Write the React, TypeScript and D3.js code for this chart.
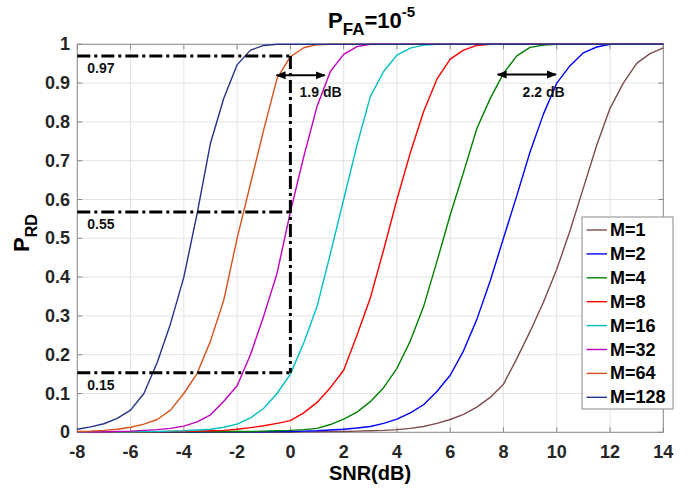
import React from "react";
import * as d3 from "d3";

// SNR grid in dB (0.5 dB steps)
const snr = [
  -8, -7.5, -7, -6.5, -6, -5.5, -5, -4.5, -4, -3.5, -3, -2.5, -2, -1.5, -1, -0.5,
  0, 0.5, 1, 1.5, 2, 2.5, 3, 3.5, 4, 4.5, 5, 5.5, 6, 6.5, 7, 7.5, 8, 8.5, 9, 9.5,
  10, 10.5, 11, 11.5, 12, 12.5, 13, 13.5, 14,
];

const pM1 = [
  0, 0, 0, 0, 0, 0, 0, 0, 0, 0, 0, 0, 0, 0, 0, 0,
  0, 0.001, 0.001, 0.002, 0.002, 0.003, 0.004, 0.005, 0.007, 0.01,
  0.015, 0.023, 0.033, 0.046, 0.065, 0.09,
  0.124, 0.19, 0.26, 0.335, 0.42, 0.52, 0.63, 0.74, 0.835, 0.9, 0.951, 0.976, 0.991,
];
const pM2 = [
  0, 0, 0, 0, 0, 0, 0, 0, 0, 0, 0.001, 0.001, 0.001, 0.001, 0.001, 0.002,
  0.002, 0.003, 0.004, 0.006, 0.008, 0.011, 0.015, 0.023, 0.034, 0.05, 0.071, 0.105,
  0.147, 0.21, 0.291, 0.39, 0.5, 0.61, 0.723, 0.82, 0.9, 0.945, 0.978, 0.993,
  1, 1, 1, 1, 1,
];
const pM4 = [
  0, 0, 0, 0, 0, 0, 0.001, 0.001, 0.001, 0.001, 0.001, 0.002, 0.002, 0.002, 0.003, 0.004,
  0.005, 0.007, 0.01, 0.02, 0.034, 0.052, 0.079, 0.115, 0.165, 0.235, 0.324, 0.44,
  0.56, 0.67, 0.783, 0.86, 0.925, 0.97, 0.992, 0.998, 1,
  1, 1, 1, 1, 1, 1, 1, 1,
];
const pM8 = [
  0, 0, 0, 0.001, 0.001, 0.001, 0.001, 0.002, 0.002, 0.003, 0.004, 0.005, 0.008, 0.012, 0.017, 0.023,
  0.03, 0.05, 0.077, 0.115, 0.16, 0.25, 0.346, 0.47, 0.6, 0.72, 0.826, 0.91,
  0.962, 0.985, 0.997, 1,
  1, 1, 1, 1, 1, 1, 1, 1, 1, 1, 1, 1, 1,
];
const pM16 = [
  0, 0.001, 0.001, 0.001, 0.001, 0.002, 0.002, 0.003, 0.004, 0.006, 0.008, 0.013, 0.021, 0.037, 0.062, 0.1,
  0.15, 0.23, 0.324, 0.46, 0.6, 0.74, 0.865, 0.93, 0.972, 0.99, 0.998, 1,
  1, 1, 1, 1, 1, 1, 1, 1, 1, 1, 1, 1, 1, 1, 1, 1, 1,
];
const pM32 = [
  0.001, 0.001, 0.001, 0.002, 0.003, 0.005, 0.007, 0.01, 0.016, 0.027, 0.045, 0.08, 0.12, 0.2, 0.3, 0.41,
  0.568, 0.71, 0.84, 0.93, 0.974, 0.994, 1,
  1, 1, 1, 1, 1, 1, 1, 1, 1, 1, 1, 1, 1, 1, 1, 1, 1, 1, 1, 1, 1, 1,
];
const pM64 = [
  0.002, 0.003, 0.005, 0.008, 0.013, 0.021, 0.033, 0.057, 0.1, 0.152, 0.235, 0.341, 0.5, 0.64, 0.78, 0.912,
  0.968, 0.991, 0.999,
  1, 1, 1, 1, 1, 1, 1, 1, 1, 1, 1, 1, 1, 1, 1, 1, 1, 1, 1, 1, 1, 1, 1, 1, 1, 1, 1,
];
const pM128 = [
  0.008, 0.014, 0.022, 0.036, 0.057, 0.1, 0.18, 0.28, 0.4, 0.564, 0.745, 0.861, 0.947, 0.985, 0.997, 1,
  1, 1, 1, 1, 1, 1, 1, 1, 1, 1, 1, 1, 1, 1, 1, 1, 1, 1, 1, 1, 1, 1, 1, 1, 1, 1, 1, 1, 1,
];

const seriesNames = ["M=1", "M=2", "M=4", "M=8", "M=16", "M=32", "M=64", "M=128"];
const seriesValues = [pM1, pM2, pM4, pM8, pM16, pM32, pM64, pM128];
const seriesColors = ["#7e4c4c", "#0000ff", "#008000", "#ff0000", "#00bfbf", "#bf00bf", "#d95319", "#23338c"];

const xTicks = [-8, -6, -4, -2, 0, 2, 4, 6, 8, 10, 12, 14];
const yTicks = [0, 0.1, 0.2, 0.3, 0.4, 0.5, 0.6, 0.7, 0.8, 0.9, 1];

// dash-dot reference lines (at SNR = 0 dB)
const refSnr = 0;
const refLevels = [0.97, 0.568, 0.1536];
const refLabels = ["0.97", "0.55", "0.15"];

// double arrows: [from, to, level, label]
const arrowFrom = [-0.52, 7.78];
const arrowTo = [1.29, 9.97];
const arrowLevel = [0.92, 0.922];
const arrowLabels = ["1.9 dB", "2.2 dB"];

const W = 696;
const H = 491;
const font = "'Liberation Sans', Arial, sans-serif";

export default function App() {
  const x = d3.scaleLinear().domain([-8, 14]).range([77.3, 663.3]);
  const y = d3.scaleLinear().domain([0, 1]).range([432.3, 44.3]);
  const [x0, x1] = x.range();
  const [y0, y1] = y.range();

  const line = d3
    .line<number>()
    .x((_, i) => x(snr[i]))
    .y((d) => y(d));

  const legX = 582;
  const legY = 217;
  const legW = 91;
  const legH = 192;
  const rowH = 23.9;

  return (
    <svg
      width={W}
      height={H}
      style={{ position: "absolute", left: 0, top: 0, background: "#fff" }}
      fontFamily={font}
    >
      <defs>
        <marker id="ah" viewBox="0 0 10 10" refX="9" refY="5" markerWidth="5" markerHeight="5" orient="auto-start-reverse">
          <path d="M0,1 L10,5 L0,9 z" fill="#000" />
        </marker>
      </defs>
      <rect x={0} y={0} width={W} height={H} fill="#fff" />

      {/* grid */}
      <g stroke="#e3e3e3" strokeWidth={1}>
        {xTicks.map((t) => (
          <line key={"gx" + t} x1={x(t)} x2={x(t)} y1={y0} y2={y1} />
        ))}
        {yTicks.map((t) => (
          <line key={"gy" + t} x1={x0} x2={x1} y1={y(t)} y2={y(t)} />
        ))}
      </g>

      {/* axes box + ticks */}
      <g stroke="#8a8a8a" strokeWidth={1} fill="none">
        <rect x={x0} y={y1} width={x1 - x0} height={y0 - y1} />
        {xTicks.map((t) => (
          <g key={"tx" + t}>
            <line x1={x(t)} x2={x(t)} y1={y0} y2={y0 - 5} />
            <line x1={x(t)} x2={x(t)} y1={y1} y2={y1 + 5} />
          </g>
        ))}
        {yTicks.map((t) => (
          <g key={"ty" + t}>
            <line x1={x0} x2={x0 + 5} y1={y(t)} y2={y(t)} />
            <line x1={x1} x2={x1 - 5} y1={y(t)} y2={y(t)} />
          </g>
        ))}
      </g>

      {/* tick labels */}
      <g fontSize={18} fontWeight="bold" fill="#262626">
        {xTicks.map((t) => (
          <text key={"lx" + t} x={x(t)} y={458} textAnchor="middle">
            {t}
          </text>
        ))}
        {yTicks.map((t) => (
          <text key={"ly" + t} x={70} y={y(t)} textAnchor="end" dominantBaseline="central">
            {t}
          </text>
        ))}
      </g>

      {/* curves */}
      <g fill="none" strokeWidth={1.4} strokeLinejoin="round">
        {seriesValues.map((vals, k) => (
          <path key={seriesNames[k]} d={line(vals) || ""} stroke={seriesColors[k]} />
        ))}
      </g>

      {/* dash-dot reference lines */}
      <g stroke="#000" strokeWidth={3} fill="none" strokeDasharray="13 4 3 4">
        {refLevels.map((lv) => (
          <line key={"rl" + lv} x1={x0} x2={x(refSnr)} y1={y(lv)} y2={y(lv)} />
        ))}
        <line x1={x(refSnr)} x2={x(refSnr)} y1={y(refLevels[0])} y2={y(refLevels[2])} />
      </g>
      <g fontSize={14} fontWeight="bold" fill="#111">
        {refLevels.map((lv, i) => (
          <text key={"rt" + lv} x={x0 + 10} y={y(lv) + 17}>
            {refLabels[i]}
          </text>
        ))}
      </g>

      {/* arrows */}
      {arrowFrom.map((a, i) => (
        <g key={"ar" + i}>
          <line
            x1={x(a)}
            x2={x(arrowTo[i])}
            y1={y(arrowLevel[i])}
            y2={y(arrowLevel[i])}
            stroke="#000"
            strokeWidth={2}
            markerStart="url(#ah)"
            markerEnd="url(#ah)"
          />
          <text
            x={x(a) + (i === 0 ? 23 : 25)}
            y={y(arrowLevel[i]) + 22}
            fontSize={14}
            fontWeight="bold"
            fill="#111"
          >
            {arrowLabels[i]}
          </text>
        </g>
      ))}

      {/* legend */}
      <g>
        <rect x={legX} y={legY} width={legW} height={legH} fill="#fff" stroke="#8a8a8a" strokeWidth={1} />
        {seriesNames.map((n, k) => (
          <g key={"lg" + n}>
            <line
              x1={legX + 4.5}
              x2={legX + 25}
              y1={legY + 13 + rowH * k}
              y2={legY + 13 + rowH * k}
              stroke={seriesColors[k]}
              strokeWidth={1.4}
            />
            <text
              x={legX + 28}
              y={legY + 13 + rowH * k}
              dominantBaseline="central"
              fontSize={18}
              fontWeight="bold"
              fill="#000"
            >
              {n}
            </text>
          </g>
        ))}
      </g>

      {/* title */}
      <text x={328} y={28} fontSize={22} fontWeight="bold" fill="#000">
        P
        <tspan fontSize={17} dy={7}>FA</tspan>
        <tspan fontSize={22} dy={-7}>=10</tspan>
        <tspan fontSize={15} dy={-11}>-5</tspan>
      </text>

      {/* axis labels */}
      <text x={370} y={480} textAnchor="middle" fontSize={20} fontWeight="bold" fill="#000">
        SNR(dB)
      </text>
      <text transform="translate(29,252) rotate(-90)" fontSize={22} fontWeight="bold" fill="#000">
        P
        <tspan fontSize={16} dy={8}>RD</tspan>
      </text>
    </svg>
  );
}
